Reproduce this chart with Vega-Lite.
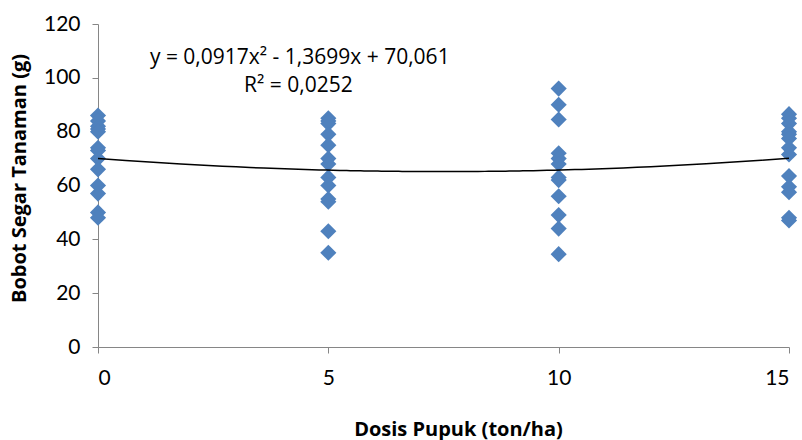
{
  "$schema": "https://vega.github.io/schema/vega-lite/v6.json",
  "width": 691,
  "height": 323,
  "autosize": {"type": "none"},
  "padding": {"left": 98, "top": 24, "right": 13, "bottom": 93},
  "background": "white",
  "config": {
    "view": {"stroke": null},
    "font": "Lato",
    "axis": {"grid": false, "domainColor": "#868686", "tickColor": "#868686", "labelColor": "#000000", "titleColor": "#000000", "labelFont": "Lato", "titleFont": "Open Sans", "labelFontSize": 21, "titleFontSize": 20, "titleFontWeight": "bold"}
  },
  "datasets": {
    "pts": [
      {"dosis": 0, "bobot": 86}, {"dosis": 0, "bobot": 84}, {"dosis": 0, "bobot": 82}, {"dosis": 0, "bobot": 81}, {"dosis": 0, "bobot": 80}, {"dosis": 0, "bobot": 74}, {"dosis": 0, "bobot": 73}, {"dosis": 0, "bobot": 70}, {"dosis": 0, "bobot": 66}, {"dosis": 0, "bobot": 60}, {"dosis": 0, "bobot": 57}, {"dosis": 0, "bobot": 50}, {"dosis": 0, "bobot": 48},
      {"dosis": 5, "bobot": 85}, {"dosis": 5, "bobot": 84}, {"dosis": 5, "bobot": 83}, {"dosis": 5, "bobot": 79}, {"dosis": 5, "bobot": 75}, {"dosis": 5, "bobot": 70}, {"dosis": 5, "bobot": 68}, {"dosis": 5, "bobot": 63}, {"dosis": 5, "bobot": 60}, {"dosis": 5, "bobot": 55}, {"dosis": 5, "bobot": 54}, {"dosis": 5, "bobot": 43}, {"dosis": 5, "bobot": 35},
      {"dosis": 10, "bobot": 96}, {"dosis": 10, "bobot": 90}, {"dosis": 10, "bobot": 84.5}, {"dosis": 10, "bobot": 72}, {"dosis": 10, "bobot": 70}, {"dosis": 10, "bobot": 68}, {"dosis": 10, "bobot": 63}, {"dosis": 10, "bobot": 62}, {"dosis": 10, "bobot": 56}, {"dosis": 10, "bobot": 49}, {"dosis": 10, "bobot": 44}, {"dosis": 10, "bobot": 34.5},
      {"dosis": 15, "bobot": 86.5}, {"dosis": 15, "bobot": 85}, {"dosis": 15, "bobot": 83}, {"dosis": 15, "bobot": 80}, {"dosis": 15, "bobot": 79}, {"dosis": 15, "bobot": 77.5}, {"dosis": 15, "bobot": 74}, {"dosis": 15, "bobot": 71.5}, {"dosis": 15, "bobot": 63.5}, {"dosis": 15, "bobot": 59.5}, {"dosis": 15, "bobot": 57.5}, {"dosis": 15, "bobot": 48}, {"dosis": 15, "bobot": 47}
    ],
    "labels": [
      {"dosis": 4.38, "bobot": 107.5, "teks": "y = 0,0917x² - 1,3699x + 70,061"},
      {"dosis": 4.35, "bobot": 97, "teks": "R² = 0,0252"}
    ]
  },
  "layer": [
    {
      "data": {"name": "pts"},
      "mark": {"type": "point", "shape": "diamond", "filled": true, "size": 260, "color": "#4F81BD", "opacity": 1},
      "encoding": {
        "x": {"field": "dosis", "type": "quantitative", "scale": {"domain": [0, 15], "nice": false}, "axis": {"values": [0, 5, 10, 15], "title": "Dosis Pupuk (ton/ha)", "tickSize": 6, "labelPadding": 14, "titlePadding": 31, "titleX": 360, "titleAlign": "center"}},
        "y": {"field": "bobot", "type": "quantitative", "scale": {"domain": [0, 120], "nice": false}, "axis": {"values": [0, 20, 40, 60, 80, 100, 120], "title": "Bobot Segar Tanaman (g)", "tickSize": 6, "labelPadding": 12, "titlePadding": 14, "titleY": 154, "titleAlign": "center"}}
      }
    },
    {
      "data": {"name": "pts"},
      "transform": [{"regression": "bobot", "on": "dosis", "method": "poly", "order": 2, "extent": [0, 15]}],
      "mark": {"type": "line", "color": "#000000", "strokeWidth": 1.5},
      "encoding": {
        "x": {"field": "dosis", "type": "quantitative"},
        "y": {"field": "bobot", "type": "quantitative"}
      }
    },
    {
      "data": {"name": "labels"},
      "mark": {"type": "text", "font": "Open Sans", "fontSize": 21, "color": "#000000", "align": "center", "baseline": "middle"},
      "encoding": {
        "x": {"field": "dosis", "type": "quantitative"},
        "y": {"field": "bobot", "type": "quantitative"},
        "text": {"field": "teks"}
      }
    }
  ]
}
